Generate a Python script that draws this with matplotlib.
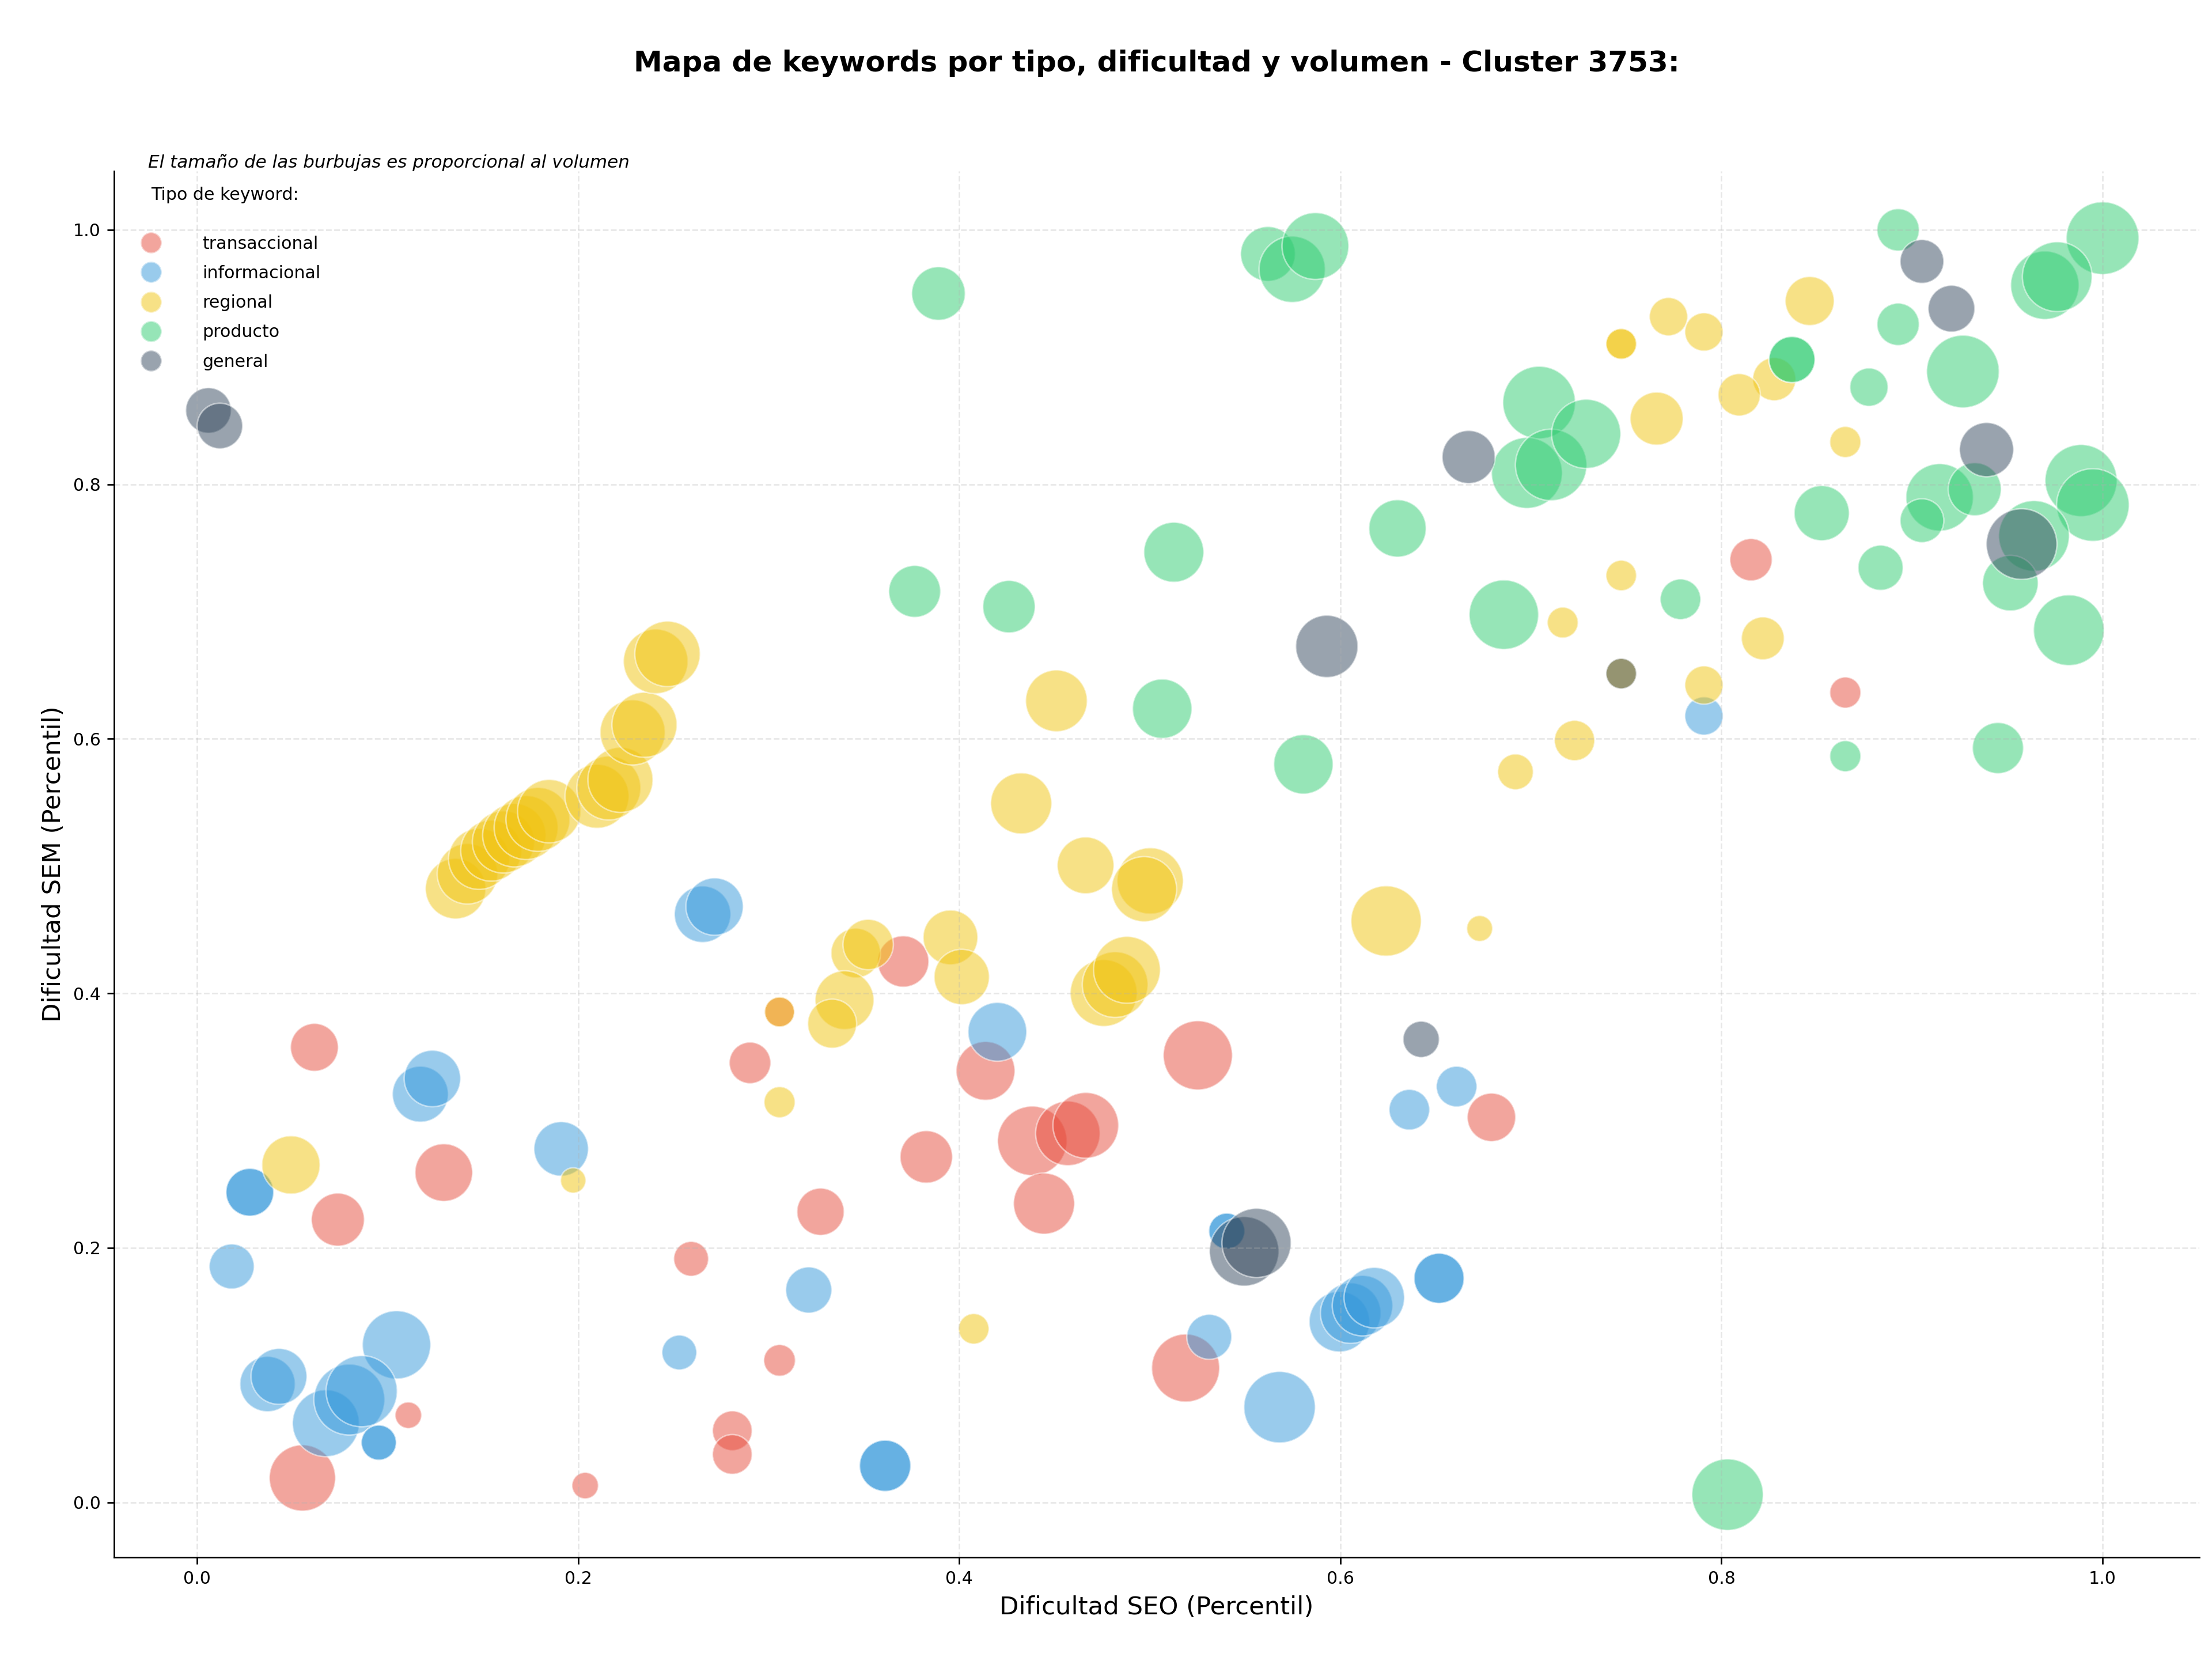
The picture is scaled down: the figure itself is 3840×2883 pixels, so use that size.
import numpy as np
import matplotlib
matplotlib.use('Agg')
import matplotlib.pyplot as plt
from matplotlib.lines import Line2D

# dificultad SEO (x), dificultad SEM (y) y volumen (tamaño de burbuja) por tipo
trans_seo = [0.0616, 0.1295, 0.0739, 0.2902, 0.3057, 0.3272, 0.2593, 0.3057, 0.1109, 0.0553,
             0.2037, 0.2809, 0.2809, 0.3706, 0.4138, 0.5252, 0.3827, 0.4383, 0.4570, 0.4664,
             0.4445, 0.6793, 0.5188, 0.8155, 0.8650]
trans_sem = [0.3576, 0.2592, 0.2222, 0.3454, 0.3854, 0.2284, 0.1914, 0.1116, 0.0685, 0.0192,
             0.0132, 0.0563, 0.0377, 0.4251, 0.3391, 0.3513, 0.2715, 0.2841, 0.2900, 0.2963,
             0.2348, 0.3026, 0.1056, 0.7408, 0.6364]
trans_vol = [620, 900, 762, 467, 243, 605, 329, 272, 190, 1190,
             190, 428, 428, 713, 936, 1296, 745, 1307, 1129, 1170,
             1011, 635, 1253, 486, 262]

info_seo = [0.2653, 0.2716, 0.1172, 0.1235, 0.0277, 0.0277, 0.1911, 0.3210, 0.0182, 0.2531,
            0.0370, 0.0430, 0.1047, 0.0676, 0.0799, 0.0864, 0.0954, 0.0954, 0.4200, 0.5404,
            0.5404, 0.6610, 0.6362, 0.5995, 0.6054, 0.6116, 0.6178, 0.6518, 0.6518, 0.5312,
            0.5681, 0.3611, 0.3611, 0.7908]
info_sem = [0.4622, 0.4682, 0.3208, 0.3331, 0.2437, 0.2437, 0.2778, 0.1669, 0.1854, 0.1178,
            0.0930, 0.0990, 0.1238, 0.0622, 0.0808, 0.0874, 0.0470, 0.0470, 0.3698, 0.2132,
            0.2132, 0.3268, 0.3086, 0.1420, 0.1487, 0.1546, 0.1609, 0.1761, 0.1761, 0.1301,
            0.0748, 0.0288, 0.0288, 0.6180]
info_vol = [864, 891, 847, 864, 620, 620, 804, 576, 548, 329,
            829, 847, 1264, 1211, 1362, 1373, 335, 335, 936, 352,
            352, 447, 447, 992, 992, 992, 992, 681, 681, 548,
            1384, 713, 713, 397]

reg_seo = [0.1357, 0.1419, 0.1480, 0.1544, 0.1608, 0.1665, 0.1727, 0.1789, 0.1848, 0.2099,
           0.2161, 0.2222, 0.2286, 0.2348, 0.2407, 0.2469, 0.0493, 0.1974, 0.3057, 0.3057,
           0.3457, 0.3522, 0.3954, 0.4013, 0.3398, 0.3333, 0.4758, 0.4818, 0.4880, 0.4076,
           0.6240, 0.6731, 0.7167, 0.4510, 0.7229, 0.6919, 0.4325, 0.4663, 0.5002, 0.4970,
           0.8650, 0.7474, 0.7474, 0.7722, 0.7908, 0.8463, 0.8277, 0.8093, 0.7660, 0.7474,
           0.8217, 0.7474, 0.7908]
reg_sem = [0.4823, 0.4940, 0.5057, 0.5122, 0.5190, 0.5243, 0.5303, 0.5367, 0.5432, 0.5549,
           0.5614, 0.5678, 0.6051, 0.6111, 0.6609, 0.6668, 0.2652, 0.2530, 0.3854, 0.3145,
           0.4317, 0.4384, 0.4440, 0.4129, 0.3947, 0.3762, 0.4003, 0.4069, 0.4185, 0.1364,
           0.4569, 0.4510, 0.6914, 0.6299, 0.5987, 0.5741, 0.5493, 0.5006, 0.4884, 0.4819,
           0.8333, 0.9104, 0.9104, 0.9318, 0.9198, 0.9441, 0.8827, 0.8704, 0.8517, 0.7284,
           0.6790, 0.6513, 0.6423]
reg_vol = [992, 992, 1011, 1011, 1050, 1089, 1109, 1109, 1089, 1109,
           1109, 1149, 1149, 1149, 1129, 1159, 918, 174, 243, 262,
           666, 689, 812, 829, 936, 650, 1211, 1170, 1211, 253,
           1340, 182, 258, 1030, 441, 346, 1011, 873, 1190, 1149,
           262, 253, 253, 397, 397, 650, 506, 486, 762, 253,
           497, 253, 397]

prod_seo = [0.3891, 0.5620, 0.5747, 0.5869, 0.7043, 0.6979, 0.7106, 0.7290, 0.6300, 0.5126,
            0.3766, 0.4261, 0.6858, 0.5065, 0.5806, 0.8927, 0.8927, 1.0000, 0.9697, 0.9762,
            0.9267, 0.8774, 0.8370, 0.8370, 0.7785, 0.8526, 0.8835, 0.9145, 0.9329, 0.9052,
            0.9887, 0.9949, 0.9640, 0.9516, 0.9823, 0.8650, 0.9451, 0.8032]
prod_sem = [0.9500, 0.9811, 0.9690, 0.9873, 0.8643, 0.8090, 0.8153, 0.8397, 0.7654, 0.7467,
            0.7159, 0.7039, 0.6976, 0.6237, 0.5800, 1.0000, 0.9258, 0.9935, 0.9565, 0.9632,
            0.8887, 0.8764, 0.8981, 0.8981, 0.7097, 0.7774, 0.7345, 0.7898, 0.7962, 0.7715,
            0.8030, 0.7838, 0.7595, 0.7224, 0.6854, 0.5864, 0.5928, 0.0061]
prod_vol = [778, 812, 1190, 1211, 1429, 1362, 1384, 1296, 891, 973,
            729, 745, 1307, 955, 955, 486, 486, 1429, 1266, 1318,
            1429, 397, 576, 576, 446, 824, 552, 1232, 762, 520,
            1406, 1429, 1353, 838, 1353, 262, 706, 1384]

gen_seo = [0.0060, 0.0120, 0.6673, 0.5929, 0.9052, 0.9207, 0.9391, 0.9575, 0.7474, 0.6424,
           0.5495, 0.5560]
gen_sem = [0.8581, 0.8459, 0.8215, 0.6727, 0.9752, 0.9381, 0.8273, 0.7531, 0.6513, 0.3639,
           0.1973, 0.2039]
gen_vol = [562, 562, 762, 1050, 520, 590, 795, 1353, 253, 357,
           1307, 1296]

tipos = ['transaccional', 'informacional', 'regional', 'producto', 'general']
colores = ['#E74C3C', '#3498DB', '#F1C40F', '#2ECC71', '#34495E']
datos = [(trans_seo, trans_sem, trans_vol),
         (info_seo, info_sem, info_vol),
         (reg_seo, reg_sem, reg_vol),
         (prod_seo, prod_sem, prod_vol),
         (gen_seo, gen_sem, gen_vol)]

fig, ax = plt.subplots(figsize=(16, 12.0125), dpi=240)
fig.subplots_adjust(left=0.0516, right=0.9943, bottom=0.0624, top=0.897)

for tipo, color, (x, y, vol) in zip(tipos, colores, datos):
    ax.scatter(x, y, s=np.array(vol), c=color, alpha=0.5,
               edgecolors='white', linewidths=0.8, label=tipo)

ax.set_xlim(-0.0435, 1.0508)
ax.set_ylim(-0.0432, 1.0462)
ax.grid(True, linestyle='--', alpha=0.3)
ax.spines['top'].set_visible(False)
ax.spines['right'].set_visible(False)
ax.tick_params(labelsize=9)

ax.set_xlabel('Dificultad SEO (Percentil)', fontsize=13)
ax.set_ylabel('Dificultad SEM (Percentil)', fontsize=13)
ax.set_title('Mapa de keywords por tipo, dificultad y volumen - Cluster 3753:',
             fontsize=15, fontweight='bold', pad=52)

ax.text(0.0163, 1.0, 'El tamaño de las burbujas es proporcional al volumen',
        transform=ax.transAxes, fontsize=9.3, style='italic', va='bottom', ha='left')

handles = [Line2D([], [], marker='o', ls='', markersize=11, markerfacecolor=c,
                  markeredgecolor='white', alpha=0.5, label=t)
           for t, c in zip(tipos, colores)]
ax.legend(handles=handles, title='Tipo de keyword:\n', loc='upper left',
          frameon=False, fontsize=9, title_fontsize=9,
          handlelength=2.45, handletextpad=1.75, labelspacing=0.74)

fig.savefig('out.png', dpi=240)
